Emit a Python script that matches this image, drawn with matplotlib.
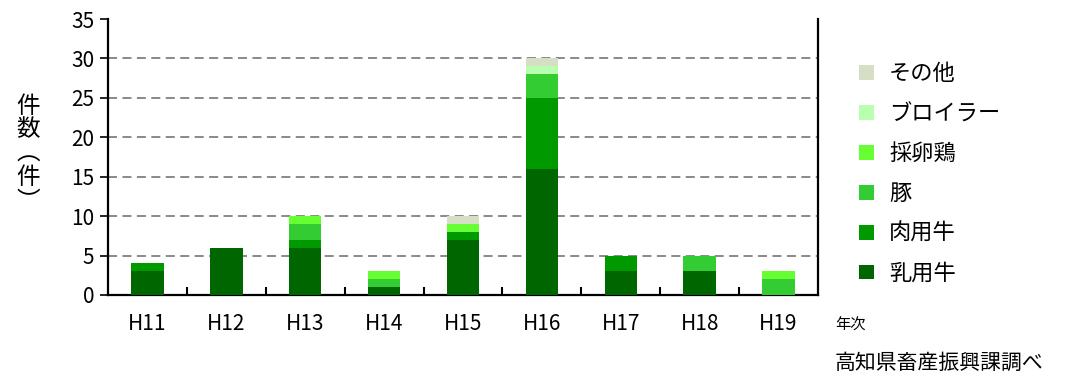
"""Stacked bar chart of livestock accident counts by year, Kochi prefecture."""

import matplotlib

matplotlib.use("Agg")
import matplotlib.pyplot as plt
import numpy as np

plt.rcParams["font.family"] = ["Noto Sans CJK JP", "DejaVu Sans"]

years = ["H11", "H12", "H13", "H14", "H15", "H16", "H17", "H18", "H19"]
series = ["乳用牛", "肉用牛", "豚", "採卵鶏", "ブロイラー", "その他"]
dairy = [3, 6, 6, 1, 7, 16, 3, 3, 0]
beef = [1, 0, 1, 0, 1, 9, 2, 0, 0]
pig = [0, 0, 2, 1, 0, 3, 0, 2, 2]
layer = [0, 0, 1, 1, 1, 0, 0, 0, 1]
broiler = [0, 0, 0, 0, 0, 1, 0, 0, 0]
other = [0, 0, 0, 0, 1, 1, 0, 0, 0]
colors = ["#006600", "#009900", "#33cc33", "#66ff33", "#b8ffb0", "#d6dfc6"]

fig = plt.figure(figsize=(10.8, 3.78), dpi=100)
ax = fig.add_axes([0.1, 0.2196, 0.6574, 0.7301])

x = np.arange(len(years))
bottom = np.zeros(len(years))
handles = []
for name, vals, c in zip(series, [dairy, beef, pig, layer, broiler, other], colors):
    h = ax.bar(x, vals, 0.41, bottom=bottom, color=c, edgecolor="none", label=name, zorder=3)
    handles.append(h)
    bottom += np.array(vals)

ax.set_xlim(-0.5, len(years) - 0.5)
ax.set_ylim(0, 35)
ax.set_yticks(range(0, 36, 5))
for y in range(5, 35, 5):
    ax.axhline(y, color="#808080", lw=1.3, ls=(0, (5, 3)), zorder=1)

ax.set_xticks(x)
ax.set_xticklabels(years, fontsize=15)
ax.tick_params(axis="x", length=0, pad=13)
ax.set_xticks(np.arange(0.5, len(years) - 1, 1), minor=True)
ax.tick_params(axis="x", which="minor", direction="in", length=6, width=1.5)
ax.tick_params(axis="y", direction="out", length=6, width=1.2, labelsize=15, pad=4)

ax.spines["top"].set_visible(False)
for s in ["left", "bottom", "right"]:
    ax.spines[s].set_linewidth(1.6)

fig.text(0.026, 0.593, "件\n数\n︵\n件\n︶", fontsize=17, ha="center", va="center",
         linespacing=1.05)

leg = fig.legend(handles[::-1], series[::-1], loc="upper left",
                 bbox_to_anchor=(0.777, 0.888), frameon=False, fontsize=16,
                 handlelength=0.65, handleheight=0.65, handletextpad=0.7,
                 labelspacing=0.76)

fig.text(0.773, 0.14, "年次", fontsize=11, ha="left", va="center")
fig.text(0.773, 0.04, "高知県畜産振興課調べ", fontsize=15, ha="left", va="center")

fig.savefig("out.png", dpi=100)
